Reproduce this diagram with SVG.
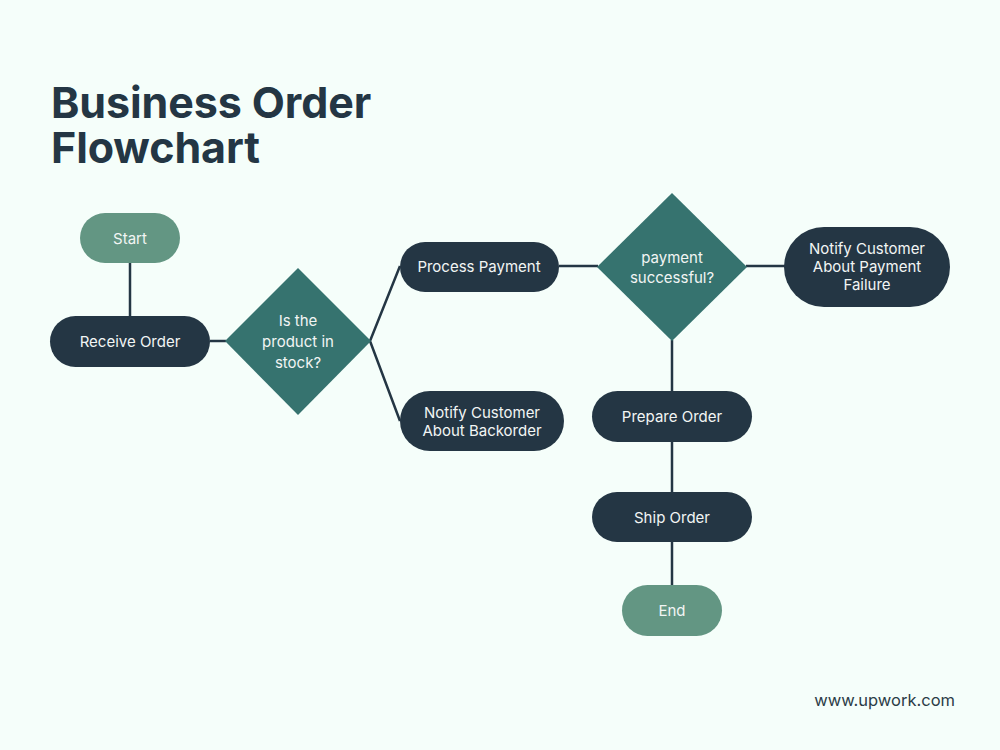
<svg xmlns="http://www.w3.org/2000/svg" width="1000" height="750" viewBox="0 0 1000 750">
<style>
.t{font-family:Inter,"Liberation Sans",sans-serif;font-size:15px;fill:#f2f5f4;text-anchor:middle;dominant-baseline:central}
.dark{fill:#243644}
.green{fill:#639683}
.teal{fill:#36736f}
.ln{stroke:#243644;stroke-width:2.5;fill:none}
</style>
<rect width="1000" height="750" fill="#f5fefa"/>
<g id="title" font-family="Inter,'Liberation Sans',sans-serif" font-weight="700" font-size="43" fill="#243644" letter-spacing="-0.1">
<text x="51" y="118">Business Order</text>
<text x="51" y="163">Flowchart</text>
</g>
<g id="connectors">
<line class="ln" x1="130" y1="263" x2="130" y2="316"/>
<line class="ln" x1="210" y1="341" x2="226" y2="341"/>
<polyline class="ln" points="400,266 370,341 400,421"/>
<line class="ln" x1="559" y1="266" x2="598" y2="266"/>
<line class="ln" x1="746" y1="266" x2="785" y2="266"/>
<line class="ln" x1="672" y1="340" x2="672" y2="391"/>
<line class="ln" x1="672" y1="442" x2="672" y2="492"/>
<line class="ln" x1="672" y1="542" x2="672" y2="585"/>
</g>
<g id="start"><rect class="green" x="80" y="213" width="100" height="50" rx="25"/><text class="t" x="130" y="238">Start</text></g>
<g id="receive"><rect class="dark" x="50" y="316" width="160" height="51" rx="25.5"/><text class="t" x="130" y="341">Receive Order</text></g>
<g id="instock"><polygon class="teal" points="298,268 371,341 298,415 225,341"/><text class="t" x="298" y="320">Is the</text><text class="t" x="298" y="341">product in</text><text class="t" x="298" y="362">stock?</text></g>
<g id="process"><rect class="dark" x="400" y="242" width="159" height="50" rx="25"/><text class="t" x="479" y="266">Process Payment</text></g>
<g id="backorder"><rect class="dark" x="400" y="391" width="164" height="60" rx="30"/><text class="t" x="482" y="412">Notify Customer</text><text class="t" x="482" y="430">About Backorder</text></g>
<g id="paysuccess"><polygon class="teal" points="672,193 747,267 672,341 597,267"/><text class="t" x="672" y="257">payment</text><text class="t" x="672" y="277">successful?</text></g>
<g id="payfail"><rect class="dark" x="784" y="227" width="166" height="80" rx="40"/><text class="t" x="867" y="248">Notify Customer</text><text class="t" x="867" y="266">About Payment</text><text class="t" x="867" y="284">Failure</text></g>
<g id="prepare"><rect class="dark" x="592" y="391" width="160" height="51" rx="25.5"/><text class="t" x="672" y="416">Prepare Order</text></g>
<g id="ship"><rect class="dark" x="592" y="492" width="160" height="50" rx="25"/><text class="t" x="672" y="517">Ship Order</text></g>
<g id="end"><rect class="green" x="622" y="585" width="100" height="51" rx="25.5"/><text class="t" x="672" y="610">End</text></g>
<text x="955" y="706" text-anchor="end" font-family="Inter,'Liberation Sans',sans-serif" font-size="16.5" fill="#2c3c47">www.upwork.com</text>
</svg>
